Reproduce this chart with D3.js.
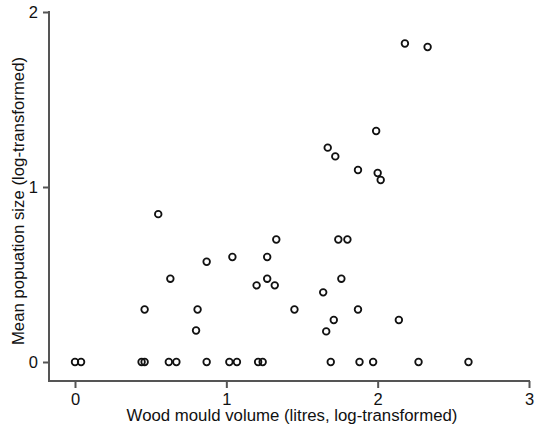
<!DOCTYPE html>
<html>
<head>
<meta charset="utf-8">
<script src="https://cdn.jsdelivr.net/npm/d3@7"></script>
<style>
  body { margin: 0; background: #fff; }
  text { font-family: "Liberation Sans", Arial, sans-serif; }
</style>
</head>
<body>
<div id="vis-container"></div>
<script>
const width = 542;
const height = 428;

// data
const woodMould = [
  0.00, 0.04, 0.44, 0.46, 0.62, 0.67, 0.87, 1.02, 1.07, 1.21, 1.24, 1.69, 1.88, 1.97, 2.27, 2.60,
  0.55, 0.63, 0.87, 1.04, 1.27, 1.27, 1.20, 1.32, 1.33, 1.74, 1.80, 1.76, 1.64,
  0.46, 0.81, 1.45, 1.87, 0.80, 1.66, 1.71, 2.14,
  1.67, 1.72, 1.87, 2.00, 2.02, 1.99, 2.18, 2.33
];
const meanPop = [
  0, 0, 0, 0, 0, 0, 0, 0, 0, 0, 0, 0, 0, 0, 0, 0,
  0.845, 0.476, 0.573, 0.60, 0.60, 0.476, 0.438, 0.438, 0.70, 0.70, 0.70, 0.476, 0.398,
  0.30, 0.30, 0.30, 0.30, 0.18, 0.175, 0.24, 0.24,
  1.225, 1.175, 1.097, 1.08, 1.04, 1.32, 1.82, 1.80
];
const xTicks = [0, 1, 2, 3];
const yTicks = [0, 1, 2];

const data = woodMould.map((v, i) => ({ x: v, y: meanPop[i] }));

const svg = d3.select("#vis-container")
  .append("svg")
  .attr("width", width)
  .attr("height", height);

const axisX = 49;   // position of the y axis line
const axisY = 381;  // position of the x axis line

const x = d3.scaleLinear().domain([0, 3]).range([75, 529]);
const y = d3.scaleLinear().domain([0, 2]).range([362, 12]);

const axisColor = "#555";

// x axis
svg.append("g")
  .attr("transform", `translate(0,${axisY})`)
  .call(d3.axisBottom(x).tickValues(xTicks).tickFormat(d3.format("d")).tickSize(7).tickSizeOuter(0).tickPadding(5))
  .call(g => g.select(".domain").remove())
  .call(g => g.selectAll(".tick line").attr("stroke", axisColor).attr("stroke-width", 2))
  .call(g => g.selectAll(".tick text").attr("font-size", "16.5px").attr("fill", "#111"));

// y axis
svg.append("g")
  .attr("transform", `translate(${axisX},0)`)
  .call(d3.axisLeft(y).tickValues(yTicks).tickFormat(d3.format("d")).tickSize(6).tickSizeOuter(0).tickPadding(5))
  .call(g => g.select(".domain").remove())
  .call(g => g.selectAll(".tick line").attr("stroke", axisColor).attr("stroke-width", 2))
  .call(g => g.selectAll(".tick text").attr("font-size", "16.5px").attr("fill", "#111"));

// axis lines
svg.append("path")
  .attr("d", `M${axisX},${y(2) - 1}V${axisY}H${x(3) + 1}`)
  .attr("fill", "none")
  .attr("stroke", axisColor)
  .attr("stroke-width", 2);

// axis titles
svg.append("text")
  .attr("x", 292)
  .attr("y", 421)
  .attr("text-anchor", "middle")
  .attr("font-size", "16.8px")
  .attr("fill", "#111")
  .text("Wood mould volume (litres, log-transformed)");

svg.append("text")
  .attr("transform", "translate(24,201) rotate(-90)")
  .attr("text-anchor", "middle")
  .attr("font-size", "16.8px")
  .attr("fill", "#111")
  .text("Mean popuation size (log-transformed)");

// points
svg.append("g")
  .selectAll("circle")
  .data(data)
  .enter()
  .append("circle")
    .attr("cx", d => x(d.x))
    .attr("cy", d => y(d.y))
    .attr("r", 3.3)
    .attr("fill", "none")
    .attr("stroke", "#111")
    .attr("stroke-width", 1.8);
</script>
</body>
</html>
